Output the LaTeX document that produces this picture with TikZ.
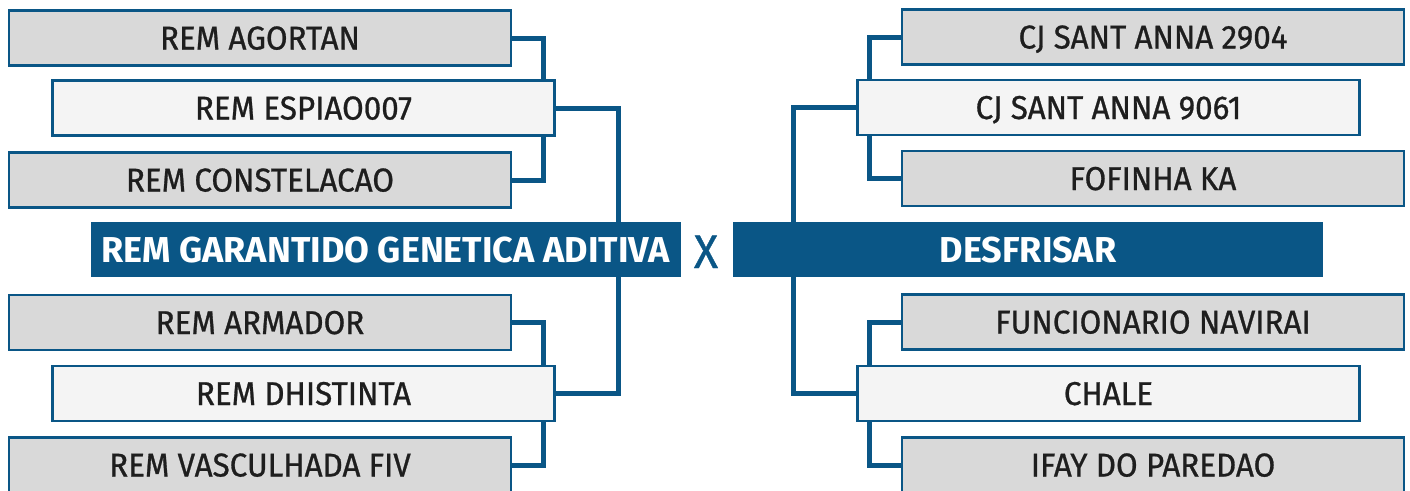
\documentclass[tikz,border=0pt]{standalone}
\usepackage{fontspec}
\setmainfont{Fira Sans}[FakeStretch=0.95, FakeBold=0.8]
\newfontfamily\titlefont{Fira Sans}
\usetikzlibrary{backgrounds}
\definecolor{bracketblue}{HTML}{0A5686}
\definecolor{boxgray}{HTML}{D9D9D9}
\definecolor{boxlight}{HTML}{F4F4F4}
\definecolor{textdark}{HTML}{1E1E1E}

\begin{document}
\begin{tikzpicture}[x=1pt,y=-1pt,
  entry/.style={draw=bracketblue, line width=2.5pt, fill=boxgray, minimum width=502pt, minimum height=55pt,
    inner sep=0pt, text=textdark, font=\fontsize{33}{33}\selectfont, text height=23pt, text depth=0pt},
  winner/.style={entry, fill=boxlight},
  finalist/.style={fill=bracketblue, minimum width=590pt, minimum height=55pt, inner sep=0pt,
    text=white, font=\titlefont\bfseries\fontsize{36}{36}\selectfont, text height=25pt, text depth=0pt},
  link/.style={draw=bracketblue, line width=5pt}]
\useasboundingbox (0,0) rectangle (1410,490);

% left side
\node[entry] (agortan) at (260,38) {REM AGORTAN};
\node[winner] (espiao) at (303.5,108) {REM ESPIAO007};
\node[entry] (constelacao) at (260,180) {REM CONSTELACAO};
\node[finalist] (garantido) at (385.5,249.5) {REM GARANTIDO GENETICA ADITIVA};
\node[entry] (armador) at (260,322.5) {REM ARMADOR};
\node[winner] (dhistinta) at (303.5,393.5) {REM DHISTINTA};
\node[entry] (vasculhada) at (260,465) {REM VASCULHADA FIV};

\node[text=bracketblue, font=\fontsize{47}{47}\selectfont, text height=33pt, text depth=0pt, inner sep=0pt] (versus) at (706,251.5) {X};

% right side
\node[entry] (cjA) at (1153,37) {CJ SANT ANNA 2904};
\node[winner] (cjB) at (1108.5,107.5) {CJ SANT ANNA 9061};
\node[entry] (fofinha) at (1153,178.5) {FOFINHA KA};
\node[finalist] (desfrisar) at (1028,249.5) {DESFRISAR};
\node[entry] (funcionario) at (1153,322) {FUNCIONARIO NAVIRAI};
\node[winner] (chale) at (1108.5,393.5) {CHALE};
\node[entry] (ifay) at (1153,465) {IFAY DO PAREDAO};

\begin{pgfonlayer}{background}
\draw[link] (agortan.east) -| ([xshift=-12pt]espiao.north east); %1
\draw[link] (constelacao.east) -| ([xshift=-12pt]espiao.south east);
\draw[link] (espiao.east) -| ([xshift=-62pt]garantido.north east);
\draw[link] (dhistinta.east) -| ([xshift=-62pt]garantido.south east);
\draw[link] (armador.east) -| ([xshift=-12pt]dhistinta.north east);
\draw[link] (vasculhada.east) -| ([xshift=-12pt]dhistinta.south east);
%
\draw[link] (cjA.west) -| ([xshift=13pt]cjB.north west); %2
\draw[link] (fofinha.west) -| ([xshift=13pt]cjB.south west);
\draw[link] (cjB.west) -| ([xshift=61pt]desfrisar.north west);
\draw[link] (chale.west) -| ([xshift=61pt]desfrisar.south west);
\draw[link] (funcionario.west) -| ([xshift=13pt]chale.north west);
\draw[link] (ifay.west) -| ([xshift=13pt]chale.south west);
\end{pgfonlayer}
\end{tikzpicture}
\end{document}
